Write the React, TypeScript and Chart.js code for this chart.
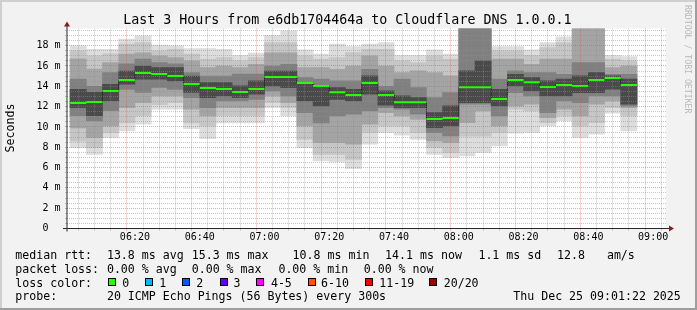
import React, { useEffect, useRef } from 'react';
import { Chart, registerables } from 'chart.js';

Chart.register(...registerables);

// ---------------- data ----------------
const startHour = 6;
const stepMinutes = 5;
const rangeStartMin = 1.6;
const rangeEndMin = 181.4;
const yMaxMs = 19.7;

const medianRtt = [12.36, 12.46, 13.54, 14.62, 15.31, 15.21, 15.02, 14.23, 13.84, 13.74, 13.44, 13.74, 14.92, 14.92, 14.33, 14.03, 13.41, 13.15, 14.33, 13.15, 12.43, 12.43, 10.79, 10.89, 13.9, 13.9, 12.76, 14.62, 14.4, 13.94, 14.13, 14.03, 14.62, 14.82, 14.13];

const smokeOuterLo = [7.96, 7.3, 8.95, 9.6, 10.26, 11.74, 11.74, 9.84, 8.85, 10.4, 10.4, 10.4, 11.9, 11.08, 7.96, 6.65, 6.55, 5.9, 8.3, 9.44, 9.18, 8.78, 7.3, 6.98, 7.14, 7.47, 8.13, 9.38, 9.44, 10.1, 10.59, 8.95, 9.28, 11.35, 9.6];
const smokeOuterHi = [17.98, 17.65, 17.65, 18.64, 18.97, 18.05, 17.98, 17.72, 17.72, 17.65, 17.06, 17.26, 19.03, 19.46, 17.6, 17.16, 18.15, 17.91, 18.15, 18.31, 17.06, 17.06, 17.6, 17.16, 22, 22, 17.91, 17.91, 17.6, 18.31, 18.87, 22, 22, 17.06, 16.93];
const smokeMidLo = [8.6, 7.96, 9.44, 10.4, 11.08, 12.2, 12.4, 10.4, 10.1, 11.08, 11.08, 11.08, 12.4, 11.9, 8.78, 7.3, 7.3, 6.8, 9.44, 10.1, 10.1, 9.44, 7.96, 7.47, 9.1, 9.1, 9.44, 11.74, 11.58, 10.43, 11.08, 10.1, 10.43, 11.9, 11.08];
const smokeMidHi = [17.5, 17.0, 17.2, 18.15, 18.3, 17.5, 17.65, 17.16, 16.67, 16.83, 16.5, 16.83, 18.3, 18.3, 17.0, 16.67, 16.83, 17.32, 17.65, 17.65, 16.5, 16.34, 17.0, 16.67, 22, 22, 17.49, 17.49, 17.06, 17.8, 18.31, 22, 22, 16.67, 16.5];
const smokeInnerLo = [9.9, 8.95, 10.1, 11.9, 12.4, 13.05, 13.05, 11.74, 11.08, 11.9, 11.9, 11.9, 13.05, 12.4, 10.1, 8.46, 8.46, 8.3, 10.26, 11.41, 11.08, 10.75, 8.62, 8.46, 10.43, 11.58, 10.1, 12.07, 12.23, 10.92, 11.74, 11.08, 12.23, 12.56, 11.9];
const smokeInnerHi = [16.7, 15.7, 16.34, 17.16, 17.3, 17.0, 16.83, 16.5, 15.85, 16.0, 15.85, 16.17, 17.3, 17.3, 15.85, 15.85, 15.68, 16.0, 17.0, 16.0, 15.35, 15.52, 15.35, 15.02, 22, 22, 16.67, 16.67, 16.17, 16.67, 16.67, 21, 21, 15.85, 16.0];
const smokeDarkLo = [11.1, 10.6, 11.6, 13.7, 13.4, 13.9, 13.7, 12.89, 11.9, 12.56, 12.56, 12.72, 13.55, 13.05, 11.41, 10.4, 11.08, 11.25, 11.58, 11.9, 11.74, 11.25, 9.44, 9.12, 12.23, 12.23, 11.08, 13.38, 13.05, 11.41, 12.56, 12.4, 13.05, 13.05, 12.07];
const smokeDarkHi = [14.7, 14.0, 15.35, 16.2, 16.67, 16.34, 16.2, 15.35, 15.0, 15.0, 15.2, 15.2, 16.0, 16.17, 14.86, 14.7, 14.53, 14.53, 15.68, 14.0, 14.7, 13.87, 12.89, 13.38, 21, 21, 14.7, 15.52, 15.35, 15.35, 15.19, 16.34, 16.34, 15.19, 15.19];
const smokeCoreLo = [11.9, 11.1, 12.56, 14.2, 14.7, 14.7, 14.53, 13.4, 12.89, 13.05, 12.89, 13.22, 14.04, 13.87, 12.56, 12.07, 12.72, 12.56, 13.22, 12.13, 11.9, 11.9, 9.93, 10.1, 12.4, 12.4, 12.07, 14.04, 13.55, 13.05, 13.05, 13.38, 13.38, 13.71, 12.23];
const smokeCoreHi = [13.7, 13.4, 14.2, 15.5, 16.0, 15.85, 15.85, 15.0, 14.37, 14.37, 14.04, 14.53, 15.5, 15.5, 14.2, 14.04, 13.87, 13.71, 15.02, 13.55, 13.05, 12.89, 11.41, 12.07, 15.52, 16.5, 13.71, 15.19, 14.86, 14.53, 14.7, 15.02, 15.35, 15.02, 14.7];

const titleText = 'Last 3 Hours from e6db1704464a to Cloudflare DNS 1.0.0.1';
const yAxisTitle = 'Seconds';
const watermark = 'RRDTOOL / TOBI OETIKER';
const rttLabel = 'median rtt:';
const rttStats = ['13.8 ms avg', '15.3 ms max', '10.8 ms min', '14.1 ms now', '1.1 ms sd', '12.8', 'am/s'];
const lossLabel = 'packet loss:';
const lossStats = ['0.00 % avg', '0.00 % max', '0.00 % min', '0.00 % now'];
const lossColorLabel = 'loss color:';
const lossLabels = ['0', '1', '2', '3', '4-5', '6-10', '11-19', '20/20'];
const lossColors = ['#26ff00', '#00b8ff', '#0059ff', '#5e00ff', '#ff00ff', '#ff5500', '#ff0000', '#a00000'];
const probeLabel = 'probe:';
const probeText = '20 ICMP Echo Pings (56 Bytes) every 300s';
const stampText = 'Thu Dec 25 09:01:22 2025';

// ---------------- layout / style ----------------
const W = 697;
const H = 310;
const MONO = '"DejaVu Sans Mono", monospace';
const bandColors = ['#dddddd', '#c6c6c6', '#a4a4a4', '#808080', '#4a4a4a'];
const minorGrid = 'rgba(143,143,143,0.5)';
const majorGrid = 'rgba(222,79,79,0.5)';

const xTickValues: number[] = [];
for (let v = stepMinutes; v <= rangeEndMin; v += stepMinutes) if (v >= rangeStartMin) xTickValues.push(v);
const yTickValues: number[] = [];
for (let v = 0; v < yMaxMs; v += 0.5) yTickValues.push(v);

const pad2 = (n: number) => String(n).padStart(2, '0');
const fmtTime = (m: number) => `${pad2(startHour + Math.floor(m / 60))}:${pad2(m % 60)}`;

const rrdPlugin = {
  id: 'rrdDecor',
  beforeDraw(chart: any) {
    const { ctx, chartArea: a } = chart;
    ctx.save();
    ctx.fillStyle = '#f2f2f2';
    ctx.fillRect(0, 0, W, H);
    ctx.fillStyle = '#cfcfcf';
    ctx.fillRect(0, 0, W, 2);
    ctx.fillRect(0, 0, 2, H);
    ctx.fillStyle = '#9e9e9e';
    ctx.fillRect(0, H - 2, W, 2);
    ctx.fillRect(W - 2, 0, 2, H);
    ctx.fillStyle = '#ffffff';
    ctx.fillRect(a.left, a.top, a.right - a.left, a.bottom - a.top);
    ctx.restore();
  },
  afterDraw(chart: any) {
    const { ctx, chartArea: a } = chart;
    ctx.save();
    // axes
    ctx.strokeStyle = '#2a2a2a';
    ctx.lineWidth = 1;
    ctx.beginPath();
    ctx.moveTo(a.left - 4, a.bottom);
    ctx.lineTo(a.right + 4, a.bottom);
    ctx.moveTo(a.left, a.bottom + 3);
    ctx.lineTo(a.left, a.top - 3);
    ctx.stroke();
    ctx.fillStyle = '#801f1f';
    ctx.beginPath();
    ctx.moveTo(a.left, a.top - 7);
    ctx.lineTo(a.left - 3, a.top - 2);
    ctx.lineTo(a.left + 3, a.top - 2);
    ctx.closePath();
    ctx.fill();
    ctx.beginPath();
    ctx.moveTo(a.right + 8, a.bottom);
    ctx.lineTo(a.right + 3, a.bottom - 3);
    ctx.lineTo(a.right + 3, a.bottom + 3);
    ctx.closePath();
    ctx.fill();

    // title
    ctx.fillStyle = '#000';
    ctx.textBaseline = 'alphabetic';
    ctx.textAlign = 'center';
    ctx.font = `13.3px ${MONO}`;
    ctx.fillText(titleText, 347.3, 24);

    // y axis title
    ctx.save();
    ctx.font = `11.6px ${MONO}`;
    ctx.translate(14.2, 128);
    ctx.rotate(-Math.PI / 2);
    ctx.textAlign = 'center';
    ctx.fillText(yAxisTitle, 0, 0);
    ctx.restore();

    // watermark
    ctx.save();
    ctx.font = `8.2px ${MONO}`;
    ctx.fillStyle = '#b8b8b8';
    ctx.translate(684.8, 5);
    ctx.rotate(Math.PI / 2);
    ctx.textAlign = 'left';
    ctx.fillText(watermark, 0, 0);
    ctx.restore();

    // legend block
    ctx.font = `11.6px ${MONO}`;
    ctx.textAlign = 'left';
    ctx.fillStyle = '#000';
    const lx = 15.3;
    const rows = [258.5, 272.5, 286.5, 300.3];
    ctx.fillText(rttLabel, lx, rows[0]);
    const rttX = [107.6, 192.4, 293.3, 385.8, 479.1, 557.8, 607.6];
    rttStats.forEach((t, i) => ctx.fillText(t, rttX[i] - 0.7, rows[0]));
    ctx.fillText(lossLabel, lx, rows[1]);
    const lossX = [107.6, 192.4, 279.1, 364.4];
    lossStats.forEach((t, i) => ctx.fillText(t, lossX[i] - 0.7, rows[1]));
    ctx.fillText(lossColorLabel, lx, rows[2]);
    const boxX = [108, 145.3, 182.2, 219.6, 256.4, 307.6, 365.3, 428.9];
    const labX = [123, 160, 196.9, 234.2, 271.6, 321.8, 380, 444.4];
    lossLabels.forEach((t, i) => {
      const bx = Math.round(boxX[i]);
      ctx.fillStyle = lossColors[i];
      ctx.fillRect(bx, 278, 8, 8);
      ctx.strokeStyle = '#000';
      ctx.lineWidth = 1;
      ctx.strokeRect(bx + 0.5, 278.5, 7, 7);
      ctx.fillStyle = '#000';
      ctx.fillText(t, labX[i] - 0.7, rows[2]);
    });
    ctx.fillText(probeLabel, lx, rows[3]);
    ctx.fillText(probeText, 107.6 - 0.7, rows[3]);
    ctx.textAlign = 'right';
    ctx.fillText(stampText, 680.8, rows[3]);
    ctx.restore();
  },
};

const bands = [
  [smokeOuterLo, smokeOuterHi],
  [smokeMidLo, smokeMidHi],
  [smokeInnerLo, smokeInnerHi],
  [smokeDarkLo, smokeDarkHi],
  [smokeCoreLo, smokeCoreHi],
];

function buildConfig(): any {
  const datasets: any[] = bands.map(([lo, hi], i) => ({
    type: 'bar',
    data: medianRtt.map((_, k) => ({ x: k * stepMinutes + stepMinutes / 2, y: [lo[k], hi[k]] })),
    backgroundColor: bandColors[i],
    borderWidth: 0,
    grouped: false,
    barPercentage: 1,
    categoryPercentage: 1,
    clip: 0,
    order: 10 - i,
  }));

  const steps = medianRtt.map((m, k) => ({ x: k * stepMinutes, y: m }));
  steps.push({ x: medianRtt.length * stepMinutes, y: medianRtt[medianRtt.length - 1] });
  datasets.push({
    type: 'line',
    data: steps,
    stepped: true,
    borderColor: '#111111',
    borderWidth: 1,
    borderDash: [1, 1],
    pointRadius: 0,
    clip: 0,
    order: 2,
  });

  const segs: any[] = [];
  medianRtt.forEach((m, k) => {
    segs.push({ x: k * stepMinutes, y: m }, { x: (k + 1) * stepMinutes, y: m }, { x: (k + 1) * stepMinutes, y: null });
  });
  datasets.push({
    type: 'line',
    data: segs,
    borderColor: lossColors[0],
    borderWidth: 2,
    pointRadius: 0,
    spanGaps: false,
    clip: 0,
    order: 1,
  });

  return {
    type: 'bar',
    data: { datasets },
    options: {
      responsive: false,
      animation: false,
      devicePixelRatio: 1,
      events: [],
      layout: { padding: { left: 0, right: 31, top: 28.4, bottom: 61.5 } },
      plugins: { legend: { display: false }, tooltip: { enabled: false }, title: { display: false } },
      scales: {
        x: {
          type: 'linear',
          min: rangeStartMin,
          max: rangeEndMin,
          afterBuildTicks: (s: any) => { s.ticks = xTickValues.map((v) => ({ value: v })); },
          afterFit: (s: any) => { s.height = 20; },
          grid: {
            z: 1,
            color: (c: any) => (c.tick && c.tick.value % 20 === 0 ? majorGrid : minorGrid),
            lineWidth: 1,
            drawTicks: true,
            tickLength: 2,
          },
          border: { display: false, dash: [1, 1] },
          ticks: {
            autoSkip: false,
            maxRotation: 0,
            minRotation: 0,
            padding: 1.2,
            color: '#000',
            font: { family: MONO, size: 10 },
            callback: (v: any) => (Number(v) % 20 === 0 ? fmtTime(Number(v)) : ''),
          },
        },
        y: {
          type: 'linear',
          min: 0,
          max: yMaxMs,
          afterBuildTicks: (s: any) => { s.ticks = yTickValues.map((v) => ({ value: v })); },
          afterFit: (s: any) => { s.width = 67; },
          grid: {
            z: 1,
            color: (c: any) => (c.tick && c.tick.value % 2 === 0 ? majorGrid : minorGrid),
            lineWidth: 1,
            drawTicks: true,
            tickLength: 2,
          },
          border: { display: false, dash: [1, 1] },
          ticks: {
            autoSkip: false,
            padding: 4.5,
            color: '#000',
            font: { family: MONO, size: 10 },
            callback: (v: any) => {
              const n = Number(v);
              if (n % 2 !== 0) return '';
              return n === 0 ? '0  ' : `${n} m`;
            },
          },
        },
      },
    },
    plugins: [rrdPlugin],
  };
}

export default function App() {
  const ref = useRef<HTMLCanvasElement>(null);
  useEffect(() => {
    document.body.style.margin = '0';
    const chart = new Chart(ref.current as HTMLCanvasElement, buildConfig());
    return () => chart.destroy();
  }, []);
  return (
    <div style={{ position: 'fixed', left: 0, top: 0, width: W, height: H }}>
      <canvas ref={ref} width={W} height={H} style={{ display: 'block', width: W, height: H }} />
    </div>
  );
}
